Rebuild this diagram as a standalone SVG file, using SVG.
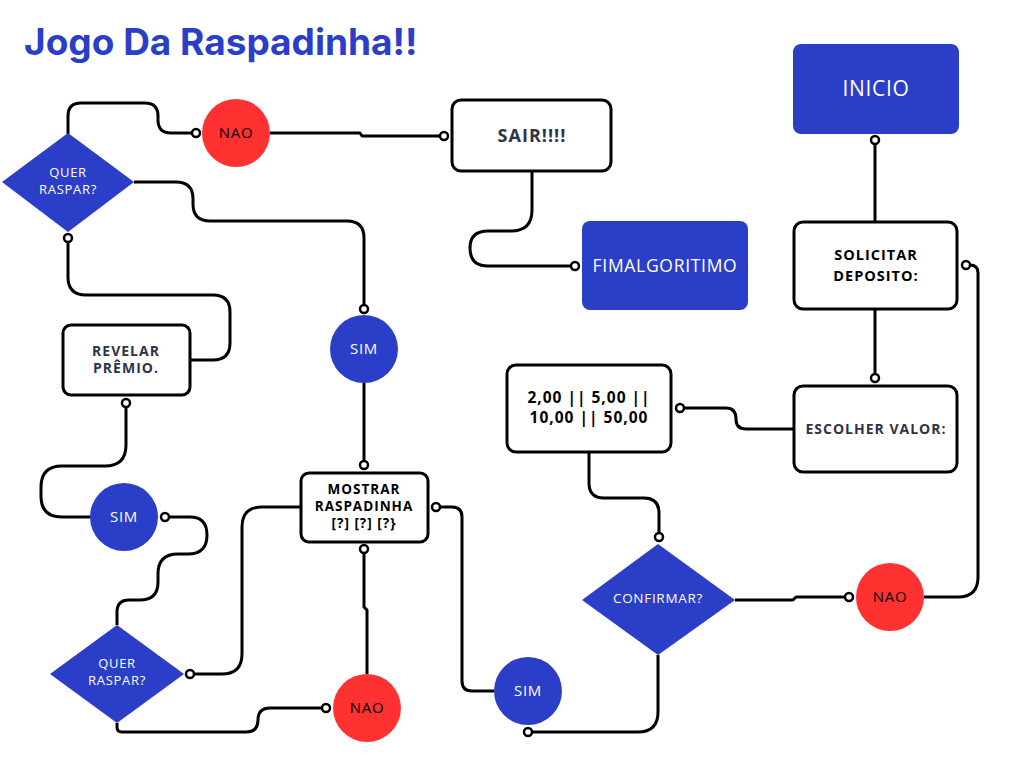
<svg xmlns="http://www.w3.org/2000/svg" width="1024" height="768" viewBox="0 0 1024 768">
<defs>
<style>
.box{fill:#ffffff;stroke:#000000;stroke-width:3}
.blue{fill:#2a3ec8}
.red{fill:#ff3131}
.con{fill:none;stroke:#000000;stroke-width:3;stroke-linejoin:round}
.lbl{font-family:"Open Sans","Liberation Sans",sans-serif;font-weight:700;text-anchor:middle;letter-spacing:1px}
.lt{font-family:"Open Sans","Liberation Sans",sans-serif;font-weight:400;text-anchor:middle;letter-spacing:0.7px}
.w{fill:#ffffff}
.k{fill:#000000}
.s{fill:#2e3446}
</style>
<marker id="dot" viewBox="0 0 12 12" refX="6" refY="6" markerWidth="12" markerHeight="12" markerUnits="userSpaceOnUse">
<circle cx="6" cy="6" r="4" fill="#ffffff" stroke="#000000" stroke-width="2.5"/>
</marker>
</defs>
<rect width="1024" height="768" fill="#ffffff"/>
<text x="24" y="55" font-family="Inter,'Liberation Sans',sans-serif" font-weight="700" font-size="37" fill="#2a3ec8">Jogo Da Raspadinha!!</text>

<g id="connectors">
<path class="con" marker-start="url(#dot)" d="M875,140 V222"/>
<path class="con" marker-end="url(#dot)" d="M875,309 V378"/>
<path class="con" marker-end="url(#dot)" d="M794,429 H746 Q736,429 736,419 Q736,408 726,408 H680"/>
<path class="con" marker-end="url(#dot)" d="M589,452 V483 Q589,498 604,498 H644 Q659,498 659,513 V537"/>
<path class="con" marker-end="url(#dot)" d="M735,600 H793 L796,597 H849"/>
<path class="con" marker-end="url(#dot)" d="M924,597 H958 Q978,597 978,577 V273 Q978,265 970,265 H966"/>
<path class="con" marker-end="url(#dot)" d="M658,655 V712 Q658,732 638,732 H528"/>
<path class="con" marker-start="url(#dot)" d="M436,507 H452 Q462,507 462,517 V681 Q462,691 472,691 H494"/>
<path class="con" marker-start="url(#dot)" d="M364,549 V607 L367,610 V674"/>
<path class="con" marker-start="url(#dot)" d="M326,708 H270 Q258,708 258,720 Q258,732 246,732 H122 Q117,732 117,727 V723"/>
<path class="con" marker-start="url(#dot)" d="M190,674 H222 Q242,674 242,654 V527 Q242,507 262,507 H301"/>
<path class="con" marker-start="url(#dot)" d="M165,517 H190 Q207,517 207,535 Q207,554 188,554 H178 Q158,554 158,574 V582 Q158,600 140,600 H129 Q117,600 117,612 V625"/>
<path class="con" marker-start="url(#dot)" d="M126,403 V445 Q126,466 105,466 H62 Q41,466 41,487 V496 Q41,517 62,517 H90"/>
<path class="con" marker-start="url(#dot)" d="M68,238 V277 Q68,295 86,295 H213 Q230,295 230,312 V343 Q230,360 213,360 H190"/>
<path class="con" marker-end="url(#dot)" d="M134,182 H176 Q193,182 193,199 V204 Q193,221 210,221 H347 Q364,221 364,238 V309"/>
<path class="con" marker-end="url(#dot)" d="M364,383 V465"/>
<path class="con" marker-end="url(#dot)" d="M68,134 V116 Q68,103 81,103 H145 Q158,103 158,116 V120 Q158,133 171,133 H196"/>
<path class="con" marker-end="url(#dot)" d="M270,133 H360 L362,136 H444"/>
<path class="con" marker-end="url(#dot)" d="M532,171 V210 Q532,231 511,231 H488 Q470,231 470,248 Q470,266 488,266 H575"/>
</g>

<g id="inicio">
<rect class="blue" x="793" y="44" width="166" height="90" rx="8"/>
<text class="lt w" x="876" y="96" font-size="21">INICIO</text>
</g>
<g id="solicitar">
<rect class="box" x="794" y="222" width="163" height="87" rx="9"/>
<text class="lbl k" x="876" y="260" font-size="14.5">SOLICITAR</text>
<text class="lbl k" x="876" y="281" font-size="14.5">DEPOSITO:</text>
</g>
<g id="escolher">
<rect class="box" x="794" y="386" width="163" height="86" rx="9"/>
<text class="lbl s" x="876" y="434" font-size="14" letter-spacing="1.2">ESCOLHER VALOR:</text>
</g>
<g id="valores">
<rect class="box" x="507" y="365" width="164" height="87" rx="9"/>
<text class="lbl k" x="589" y="403" font-size="15.5" letter-spacing="0.2">2,00 || 5,00 ||</text>
<text class="lbl k" x="589" y="423" font-size="15.5" letter-spacing="0.2">10,00 || 50,00</text>
</g>
<g id="confirmar">
<polygon class="blue" points="658,544 735,600 658,655 582,600"/>
<text class="lt w" x="658" y="603" font-size="13.5">CONFIRMAR?</text>
</g>
<g id="nao3">
<circle class="red" cx="890" cy="597" r="34"/>
<text class="lt k" x="890" y="602" font-size="15">NAO</text>
</g>
<g id="sim3">
<circle class="blue" cx="528" cy="691" r="34"/>
<text class="lt w" x="528" y="696" font-size="15">SIM</text>
</g>
<g id="nao2">
<circle class="red" cx="367" cy="708" r="34"/>
<text class="lt k" x="367" y="713" font-size="15">NAO</text>
</g>
<g id="mostrar">
<rect class="box" x="301" y="473" width="127" height="69" rx="8"/>
<text class="lbl k" x="364" y="494" font-size="13.5">MOSTRAR</text>
<text class="lbl k" x="364" y="511" font-size="13.5">RASPADINHA</text>
<text class="lbl k" x="364" y="528" font-size="13.5" letter-spacing="1.5">[?] [?] [?}</text>
</g>
<g id="quer2">
<polygon class="blue" points="117,625 184,674 117,723 50,674"/>
<text class="lt w" x="117" y="668" font-size="13">QUER</text>
<text class="lt w" x="117" y="685" font-size="13">RASPAR?</text>
</g>
<g id="sim2">
<circle class="blue" cx="124" cy="517" r="34"/>
<text class="lt w" x="124" y="522" font-size="15">SIM</text>
</g>
<g id="revelar">
<rect class="box" x="63" y="325" width="127" height="70" rx="8"/>
<text class="lbl s" x="126" y="356" font-size="14">REVELAR</text>
<text class="lbl s" x="126" y="373" font-size="14">PRÊMIO.</text>
</g>
<g id="sim1">
<circle class="blue" cx="364" cy="349" r="34"/>
<text class="lt w" x="364" y="354" font-size="15">SIM</text>
</g>
<g id="quer1">
<polygon class="blue" points="68,133 134,182 68,232 2,182"/>
<text class="lt w" x="68" y="177" font-size="13">QUER</text>
<text class="lt w" x="68" y="194" font-size="13">RASPAR?</text>
</g>
<g id="nao1">
<circle class="red" cx="236" cy="133" r="34"/>
<text class="lt k" x="236" y="138" font-size="15">NAO</text>
</g>
<g id="sair">
<rect class="box" x="452" y="100" width="159" height="71" rx="9"/>
<text class="lbl s" x="532" y="142" font-size="18">SAIR!!!!</text>
</g>
<g id="fim">
<rect class="blue" x="582" y="221" width="166" height="89" rx="8"/>
<text class="lt w" x="665" y="272" font-size="17.5" letter-spacing="1">FIMALGORITIMO</text>
</g>
</svg>
